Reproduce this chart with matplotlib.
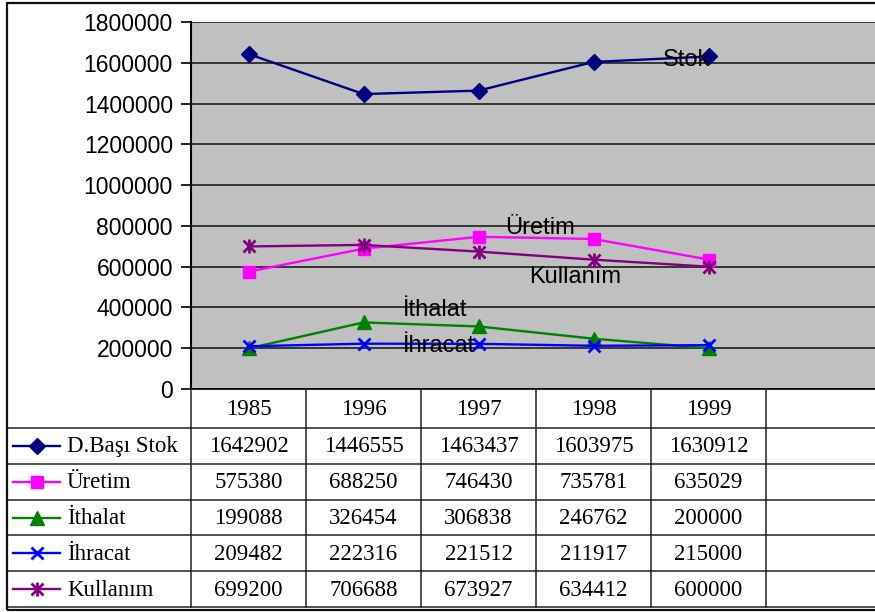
import matplotlib
matplotlib.use("Agg")
import matplotlib.pyplot as plt
from matplotlib.patches import Rectangle

# ---- data ----
years = ["1985", "1996", "1997", "1998", "1999"]
series_names = ["D.Başı Stok", "Üretim", "İthalat", "İhracat", "Kullanım"]
stok = [1642902, 1446555, 1463437, 1603975, 1630912]
uretim = [575380, 688250, 746430, 735781, 635029]
ithalat = [199088, 326454, 306838, 246762, 200000]
ihracat = [209482, 222316, 221512, 211917, 215000]
kullanim = [699200, 706688, 673927, 634412, 600000]
y_ticks = list(range(0, 1800001, 200000))

series = [stok, uretim, ithalat, ihracat, kullanim]
colors = ["#000080", "#FF00FF", "#008000", "#0000FF", "#800080"]
markers = ["D", "s", "^", "x", "x"]
msizes = [8.5, 8.5, 9.5, 9, 9]

W, H = 875, 612
fig = plt.figure(figsize=(W / 100, H / 100), dpi=100)
fig.patch.set_facecolor("white")

def fx(px):
    return px / W

def fy(py):
    return 1 - py / H

ax_left, ax_right, ax_top, ax_bot = 191, 881, 22, 389
ax = fig.add_axes([fx(ax_left), fy(ax_bot), fx(ax_right - ax_left), (ax_bot - ax_top) / H])
ax.set_facecolor("#C0C0C0")
ax.set_xlim(-0.5, 5.5)
ax.set_ylim(0, 1800000)
ax.set_yticks(y_ticks)
ax.set_yticklabels([str(v) for v in y_ticks], fontfamily="Liberation Sans", fontsize=16.5)
ax.tick_params(axis="y", length=7, width=1.2, pad=6, color="black")
ax.set_xticks([])
ax.grid(axis="y", color="#111111", linewidth=1.1)
ax.set_axisbelow(True)
for s in ["top", "right"]:
    ax.spines[s].set_visible(False)
ax.spines["left"].set_linewidth(1.5)
ax.spines["bottom"].set_linewidth(1.2)

xs = list(range(len(years)))
for i, (vals, c, m, ms) in enumerate(zip(series, colors, markers, msizes)):
    mew = 2 if m == "x" else 1
    ax.plot(xs, vals, color=c, linewidth=1.7, marker=m, markersize=ms,
            markeredgewidth=mew, markeredgecolor=c, markerfacecolor=c, zorder=3)
    if i == 4:
        ax.plot(xs, vals, linestyle="none", marker="|", markersize=10,
                markeredgewidth=2, color=c, zorder=3)

lab_font = dict(fontfamily="Liberation Sans", fontsize=17, color="black", va="center", ha="left", zorder=4)
ax.text(3.60, 1614000, "Stok", **lab_font)
ax.text(2.23, 790000, "Üretim", **lab_font)
ax.text(2.44, 549000, "Kullanım", **lab_font)
ax.text(1.34, 387000, "İthalat", **lab_font)
ax.text(1.34, 211000, "İhracat", **lab_font)

# ---- data table ----
tb_bot = 607
tax = fig.add_axes([fx(ax_left), fy(tb_bot), fx(ax_right - ax_left), (tb_bot - ax_bot) / H], sharex=ax)
tax.set_ylim(tb_bot - ax_bot, 0)
tax.axis("off")
header_h = 39
row_h = (tb_bot - ax_bot - header_h) / 5
col_w = (ax_right - ax_left) / 6.0  # px per category
left_edge = -0.5 - (ax_left - 7) / col_w
line_kw = dict(color="#222222", linewidth=1.1, clip_on=False)

ys_lines = [header_h + k * row_h for k in range(6)]
for yl in ys_lines:
    tax.plot([left_edge, 5.5], [yl, yl], **line_kw)
for k in range(6):
    tax.plot([k - 0.5, k - 0.5], [0, tb_bot - ax_bot], **line_kw)

serif = dict(fontfamily="Liberation Serif", fontsize=16.5, color="black", va="center")
for j, yr in enumerate(years):
    tax.text(j, header_h / 2 + 1, yr, ha="center", **serif)
key_x0 = left_edge + (13 - 7) / col_w
key_x1 = left_edge + (60 - 7) / col_w
key_xm = left_edge + (37 - 7) / col_w
txt_x = left_edge + (67 - 7) / col_w
for i, (name, vals, c, m, ms) in enumerate(zip(series_names, series, colors, markers, msizes)):
    yc = header_h + (i + 0.5) * row_h
    tax.plot([key_x0, key_x1], [yc, yc], color=c, linewidth=1.7, clip_on=False)
    mew = 2 if m == "x" else 1
    tax.plot([key_xm], [yc], marker=m, markersize=ms, color=c, markeredgewidth=mew,
             linestyle="none", clip_on=False)
    if i == 4:
        tax.plot([key_xm], [yc], marker="|", markersize=10, markeredgewidth=2,
                 color=c, linestyle="none", clip_on=False)
    tax.text(txt_x, yc + 1, name, ha="left", **serif)
    for j, v in enumerate(vals):
        tax.text(j, yc + 1, str(v), ha="center", **serif)

# outer frame
fig.add_artist(Rectangle((fx(7), fy(610)), fx(900 - 7), (610 - 3) / H,
                         transform=fig.transFigure, fill=False,
                         edgecolor="#111111", linewidth=1.6))

fig.savefig("out.png", dpi=100, facecolor="white")
